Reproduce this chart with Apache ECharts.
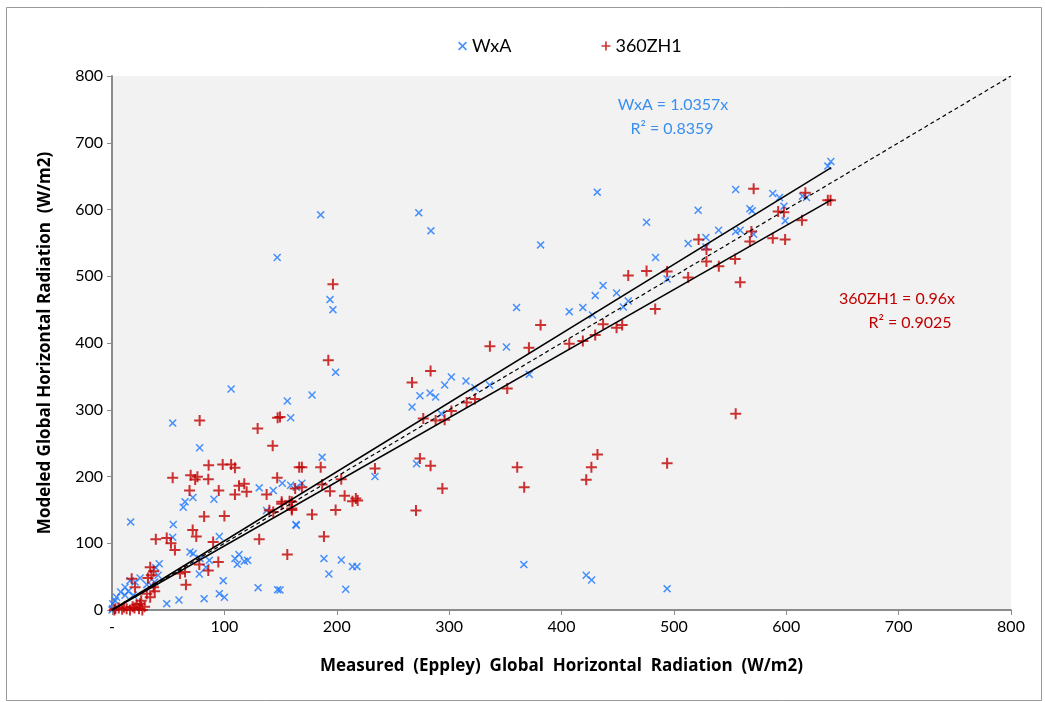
<!DOCTYPE html>
<html>
<head>
<meta charset="utf-8">
<script src="https://cdn.jsdelivr.net/npm/echarts@6/dist/echarts.min.js"></script>
<style>
  html, body { margin: 0; padding: 0; background: #fff; }
  #chart { width: 1045px; height: 702px; }
</style>
</head>
<body>
<div id="chart"></div>
<script>
// axis ticks
var axisTicks = [0, 100, 200, 300, 400, 500, 600, 700, 800];

// WxA points [measured, modeled]
var wxaPoints = [
  [185.7, 592], [273, 595], [283.8, 568], [147, 528], [194, 465], [196.6, 450], [360, 453],
  [431.8, 626], [475.7, 581], [381.4, 547], [521.6, 599], [512.7, 549], [483.7, 528], [494, 496],
  [437, 486], [430, 471], [449, 475], [459.4, 463], [455, 454], [406.9, 447], [419, 453], [427.6, 442], [351, 394],
  [639.7, 672], [637, 665], [555, 630], [588, 624], [594, 618], [614.5, 620], [618, 618], [598, 605],
  [567.6, 601], [569.6, 598], [599, 583], [539.8, 569], [555, 567], [559, 569], [571, 563], [528.5, 558], [528.5, 544],
  [371.3, 353], [274, 321], [283, 325], [288, 319], [296, 337], [302, 349], [315, 343], [323, 333], [336, 337], [293, 294],
  [199, 356], [156, 313], [178, 322], [159, 288], [267, 304], [271, 219], [234, 200], [187, 229],
  [151.5, 190], [159, 187], [169, 190], [164, 127], [188.6, 77], [204, 75], [214, 65], [218, 65], [193, 54], [208, 31], [149.5, 30],
  [366.5, 68], [422, 52], [426.8, 45], [494, 32],
  [106, 331], [54, 280], [78, 243],
  [131, 183], [143.5, 179], [164, 184], [65, 162], [63.4, 154], [72, 168.5], [90.7, 166], [16.6, 132], [54.5, 128],
  [137.6, 149], [163.7, 128], [54, 109], [95.5, 110], [69.4, 87], [72.3, 84.5], [109.4, 77], [113, 83], [117.7, 73],
  [120.7, 74.4], [111.5, 68.4], [78.3, 77], [86.6, 74.4], [83.6, 64], [77.7, 54], [130, 33.5], [147.4, 30.5], [99, 44],
  [95.5, 24.5], [100, 19], [82, 17], [59.6, 15], [48.7, 9.5], [42, 69.4], [39, 63.4], [41, 52], [35, 37], [38, 42], [31, 38],
  [11.6, 34], [14.5, 28], [7.7, 27], [11.6, 22], [19, 22], [4, 19], [2.7, 14], [0.6, 9.5], [16, 44], [20.5, 42], [25, 48],
  [0, 0], [0.6, 2]
];

// 360ZH1 points [measured, modeled]
var zh1Points = [
  [196.6, 488], [522, 555], [459.4, 501], [475.7, 508], [494, 507], [512.7, 498], [483.4, 451], [437, 428], [449, 423],
  [454, 427], [381.4, 427], [430, 412], [419, 403], [406.9, 399], [371, 393],
  [571, 631], [617, 625], [639.4, 614], [637, 614], [592.8, 597], [597.9, 596], [614, 584], [569, 567], [567.6, 552],
  [588, 557], [599, 555], [529, 540], [529, 522], [554.5, 526], [540, 515], [559, 491],
  [336.3, 395], [283.5, 358], [351.7, 332], [315.6, 311], [323, 316], [302, 298], [277, 287], [288, 284], [296, 285],
  [432, 233], [426.6, 214], [360.6, 214], [283.5, 216], [274, 227],
  [192.5, 374], [149.5, 289], [267, 341], [294, 182], [366.8, 184], [234, 212], [169, 214], [185.7, 214], [204, 196],
  [187, 188], [194, 178], [207, 171], [217, 167], [163, 182], [169, 184],
  [214, 163], [218.6, 164], [151, 162], [158, 163], [160, 152], [178, 143], [199, 150], [188.6, 110], [270.5, 149], [156, 83],
  [555, 294], [422, 195], [494, 220],
  [147.4, 288], [78, 284], [129.6, 272], [143, 246], [86, 217], [98.5, 218], [106, 218], [109.4, 213], [54, 198], [70, 202],
  [76, 199.5], [85.7, 196], [147, 198], [166.6, 214],
  [74, 195.5], [69, 179], [95, 179], [109.4, 173], [117.7, 189], [113, 186], [119.8, 177], [137.6, 173], [82, 140], [100, 141],
  [140, 149.4], [143.5, 147], [151, 159], [160, 162], [160, 150], [71.8, 120], [75, 110], [39, 106], [48.7, 108], [52.5, 100],
  [56, 90], [90, 102], [131, 106], [77.7, 68], [85.7, 59], [94.6, 72], [65, 57], [65.8, 38], [60.5, 54.5], [34, 64], [37, 58],
  [35, 52], [32, 48], [17.5, 47], [37, 34], [38, 28], [26, 14], [25, 9.5], [29, 5], [31, 24.5], [34, 19], [20.5, 34],
  [10.7, 4], [18.4, 5], [22, 8], [3, 2], [6, 3], [9, 1], [13, 2], [16, 0], [20, 3], [24, 2], [27, 0], [2, 0]
];

// trendlines through origin: slope, fitted over [0, max measured]
var wxaSlope = 1.0357;
var zh1Slope = 0.96;
var fitRange = [0, 640];
var oneToOne = [[0, 0], [800, 800]];

var wxaFit = fitRange.map(function (x) { return [x, x * wxaSlope]; });
var zh1Fit = fitRange.map(function (x) { return [x, x * zh1Slope]; });

var blue = '#1a75ff';
var red = '#c00000';
var crossPath = 'path://M0,1.3 L1.3,0 L5,3.7 L8.7,0 L10,1.3 L6.3,5 L10,8.7 L8.7,10 L5,6.3 L1.3,10 L0,8.7 L3.7,5 Z';
var plusPath = 'path://M4.5,0 H6.5 V4.5 H11 V6.5 H6.5 V11 H4.5 V6.5 H0 V4.5 H4.5 Z';
var font = 'Lato, "Liberation Sans", sans-serif';
var titleFont = '"Open Sans", Lato, sans-serif';

function note(text, x, y, color) {
  return {
    type: 'text', x: x, y: y, silent: true,
    style: { text: text, font: '16px ' + font, fill: color, align: 'center', verticalAlign: 'middle' }
  };
}

var chart = echarts.init(document.getElementById('chart'));
chart.setOption({
  animation: false,
  backgroundColor: '#fff',
  textStyle: { fontFamily: font },
  grid: {
    left: 112, right: 34, top: 76, bottom: 92,
    show: true, backgroundColor: '#f2f2f2', borderWidth: 0
  },
  legend: {
    data: ['WxA', '360ZH1'],
    top: 32, left: 453,
    itemGap: 90, itemWidth: 9, itemHeight: 9,
    textStyle: { fontSize: 18, color: '#000', fontFamily: font }
  },
  xAxis: {
    type: 'value', min: 0, max: 800, interval: 100,
    name: 'Measured  (Eppley)  Global  Horizontal  Radiation  (W/m2)',
    nameLocation: 'middle', nameGap: 48,
    nameTextStyle: { fontSize: 17, fontWeight: 'bold', color: '#000', fontFamily: titleFont },
    axisLine: { onZero: false, lineStyle: { color: '#8c8c8c', width: 2 } },
    axisTick: { show: true, length: 5, lineStyle: { color: '#8c8c8c' } },
    axisLabel: { fontSize: 16, color: '#000', margin: 9,
      formatter: function (v) { return v === 0 ? '-' : String(v); } },
    splitLine: { show: false }
  },
  yAxis: {
    type: 'value', min: 0, max: 800, interval: 100,
    name: 'Modeled Global Horizontal Radiation  (W/m2)',
    nameLocation: 'middle', nameGap: 58,
    nameTextStyle: { fontSize: 17, fontWeight: 'bold', color: '#000', fontFamily: titleFont },
    axisLine: { show: true, onZero: false, lineStyle: { color: '#8c8c8c', width: 2 } },
    axisTick: { show: true, length: 5, lineStyle: { color: '#8c8c8c' } },
    axisLabel: { fontSize: 16, color: '#000', margin: 9 },
    splitLine: { show: false }
  },
  graphic: [
    { type: 'rect', left: 4, top: 5, shape: { width: 1035, height: 693 },
      style: { fill: 'none', stroke: '#999', lineWidth: 1 }, silent: true },
    note('WxA = 1.0357x', 673, 105, '#3a8ef0'),
    note('R² = 0.8359', 672, 129, '#3a8ef0'),
    note('360ZH1 = 0.96x', 897, 299, red),
    note('R² = 0.9025', 910, 323, red)
  ],
  series: [
    {
      name: 'WxA', type: 'scatter', data: wxaPoints,
      symbol: crossPath, symbolSize: 8,
      itemStyle: { color: blue }, z: 3
    },
    {
      name: '360ZH1', type: 'scatter', data: zh1Points,
      symbol: plusPath, symbolSize: 11,
      itemStyle: { color: red }, z: 4
    },
    {
      name: 'oneToOne', type: 'line', data: oneToOne, showSymbol: false,
      lineStyle: { color: '#000', width: 1.2, type: [4, 3] }, z: 5
    },
    {
      name: 'wxaFit', type: 'line', data: wxaFit, showSymbol: false,
      lineStyle: { color: '#000', width: 1.5 }, z: 5
    },
    {
      name: 'zh1Fit', type: 'line', data: zh1Fit, showSymbol: false,
      lineStyle: { color: '#000', width: 1.5 }, z: 5
    }
  ]
});
</script>
</body>
</html>
